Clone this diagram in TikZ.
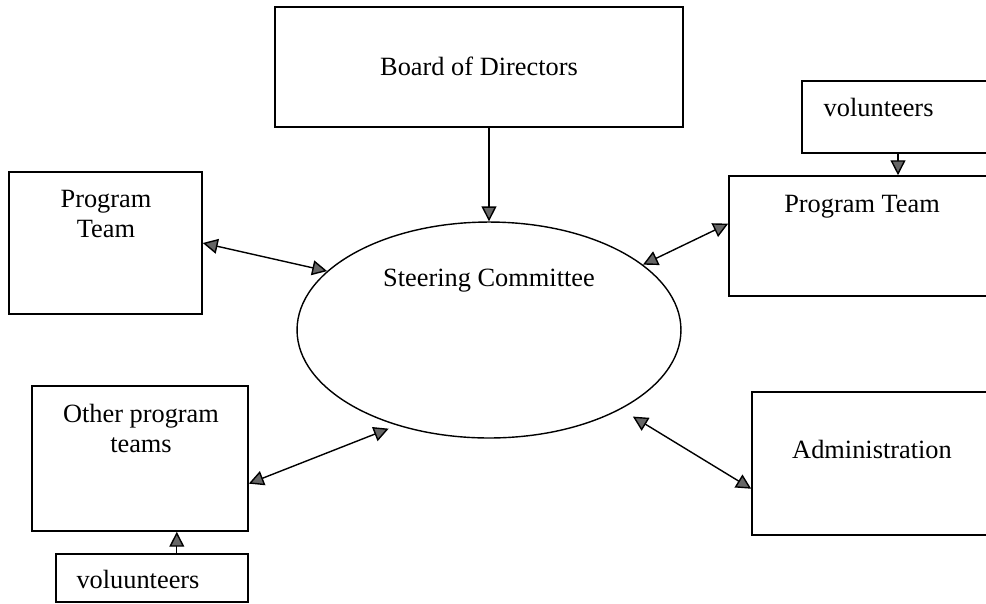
\documentclass[tikz,border=0pt]{standalone}
\usepackage{fontspec}
\setmainfont{Liberation Serif}
\usetikzlibrary{arrows.meta,fit,shapes.geometric}
\tikzset{
	box/.style={draw, line width=0.9pt, inner sep=0pt},
	lbl/.style={font=\fontsize{15}{17}\selectfont, anchor=base, inner sep=0pt, align=center},
	>={Triangle[length=8.5pt, width=8.5pt, fill=black!60]}
}
\begin{document}
\begin{tikzpicture}[x=0.02cm, y=-0.02cm, line width=0.8pt]
			%%%%% START %%%%%
			\useasboundingbox (0, 0) rectangle (986, 603);
			\clip (0, 0) rectangle (986, 603);
			
			\node[box, fit={(275, 7) (683, 127)}] (board) {};
			\node[lbl] (boardtxt) at (479, 75) {Board of Directors};
			
			\node[draw, ellipse, inner sep=0pt, minimum width=7.68cm, minimum height=4.32cm] (steer) at (489, 330) {};
			\node[lbl] (steertxt) at (489, 286) {Steering Committee};
			
			\node[box, fit={(9, 172) (202, 314)}] (progL) {};
			\node[lbl] (progLtxt) at (106, 237) {Program\\Team};
			
			\node[box, fit={(802, 81) (994, 153)}] (volR) {};
			\node[lbl, anchor=base west] (volRtxt) at (823, 116) {volunteers};
			\node[box, fit={(729, 176) (1010, 296)}] (progR) {};
			\node[lbl] (progRtxt) at (862, 212) {Program Team};
			
			\node[box, fit={(32, 386) (248, 531)}] (other) {};
			\node[lbl] (othertxt) at (141, 452) {Other program\\teams};
			\node[box, fit={(56, 554) (248, 602)}] (vol2) {};
			\node[lbl] (vol2txt) at (138, 588) {voluunteers};
			
			\node[box, fit={(752, 392) (1010, 535)}] (admin) {};
			\node[lbl] (admintxt) at (872, 458) {Administration};
			
			% arrows
			\draw[->] (steer.north |- board.south) -- (steer.north);
			\draw[<->] (progL.east) -- (steer.160);
			\draw[<->] (steer.23) -- (progR.175);
			\draw[->] (volR.south) -- (volR.south |- progR.north);
			\draw[<->, shorten >=5pt] (other.-13) -- (steer.226);
			\draw[->] (vol2.45) -- (vol2.45 |- other.south);
			\draw[<->, shorten <=8pt] (steer.-31) -- (admin.191);
			
			%%%%% END %%%%%
\end{tikzpicture}
\end{document}
